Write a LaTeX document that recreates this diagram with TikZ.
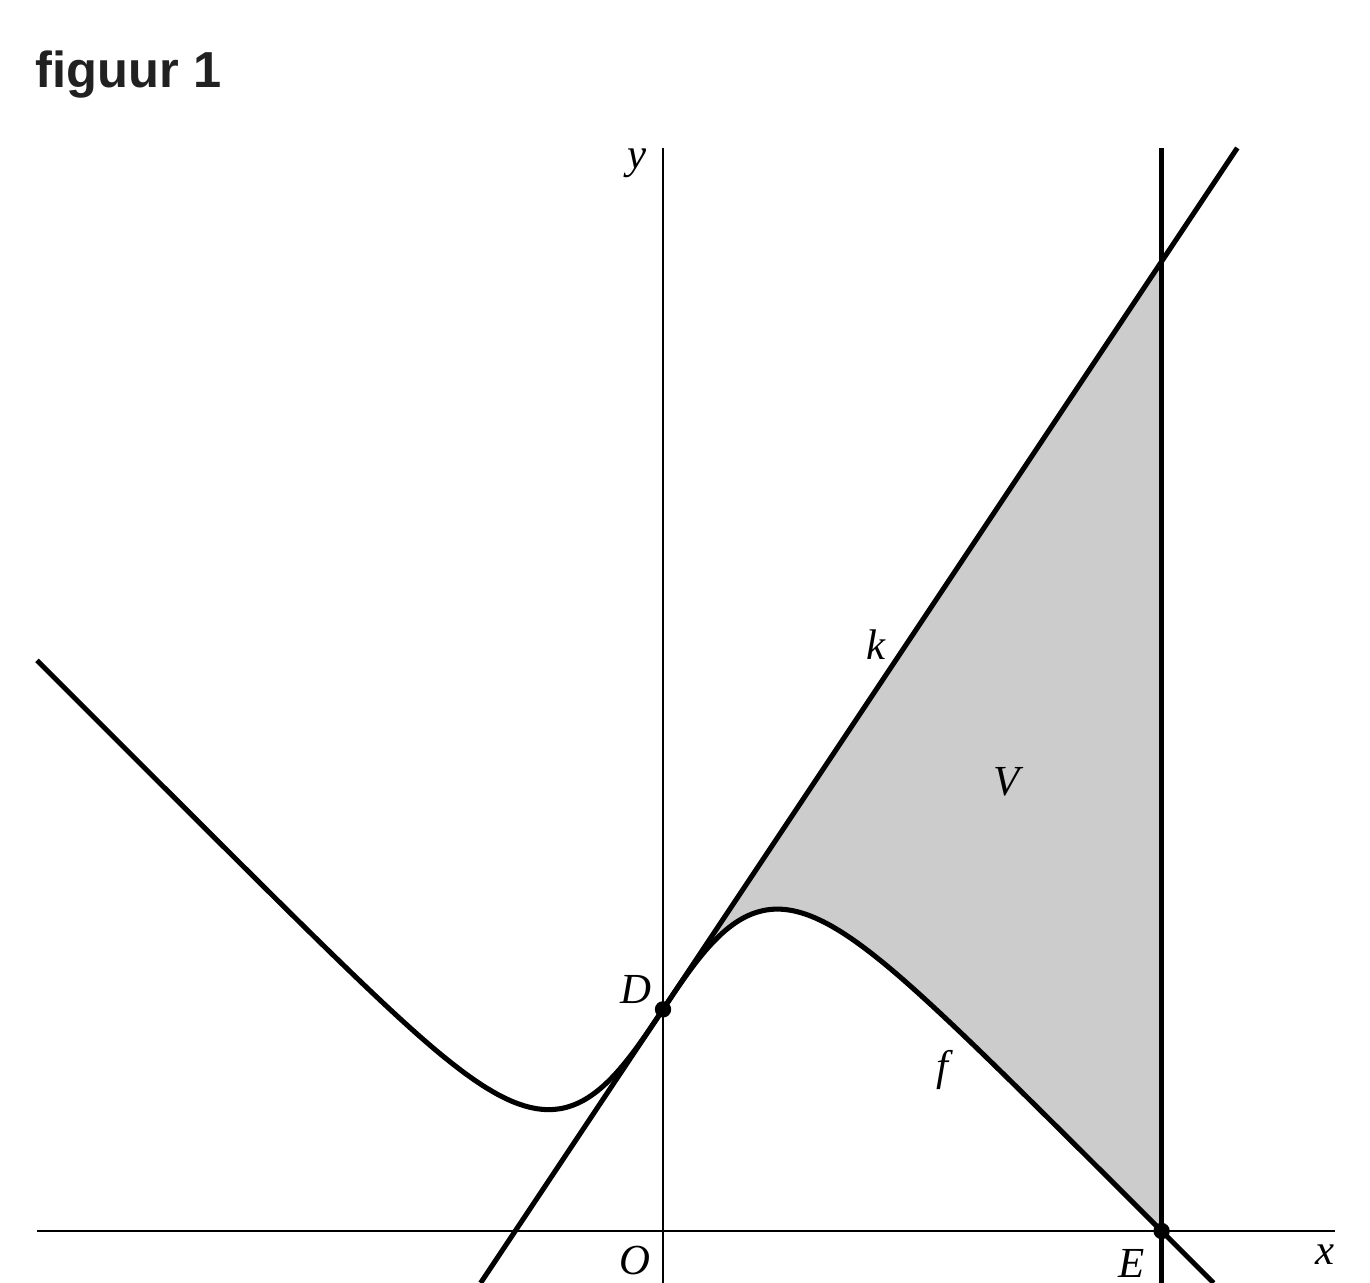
\documentclass[tikz,border=0pt]{standalone}
\usepackage{fontspec}
\setmainfont{Liberation Serif}
\newfontfamily\titlefont{Liberation Sans}
\begin{document}
\begin{tikzpicture}[x=0.5cm,y=0.5cm,
    declare function={fpos(\t)=10/(1+exp(-\t))-\t-1; fneg(\t)=10*exp(\t)/(1+exp(\t))-\t-1;},
    lbl/.style={inner sep=0pt,font=\fontsize{11}{13}\selectfont\itshape},
    axisline/.style={line width=0.75pt},
    graphline/.style={line width=1.3pt},
    dot/.style={circle,fill=black,minimum size=4.2pt,inner sep=0pt}]
  \useasboundingbox (-11.968,-0.939) rectangle (12.762,22.220);
  \node[anchor=base west,inner sep=0pt,text=black!87,
    font=\titlefont\bfseries\fontsize{13}{15}\selectfont] (title) at (-11.336,20.632) {figuur 1};
  % region V
  \fill[gray!40] (0,4) -- (9,17.5) -- plot[domain=9:0,samples=120] (\x,{fpos(\x)}) -- cycle;
  \draw
    (-11.30,0) coordinate (xl)
    (12.13,0) coordinate (xr)
    (0,-0.939) coordinate (yb)
    (0,19.55) coordinate (yt)
    (9,-0.939) coordinate (lb)
    (9,19.55) coordinate (lt)
    (-3.293,-0.939) coordinate (kb)
    (10.367,19.55) coordinate (kt);
  \begin{scope}[-]
    \draw[axisline] (xl) to (xr);
    \draw[axisline] (yb) to (yt);
    \draw[graphline] (lb) to (lt);
    \draw[graphline] (kb) to (kt);
  \end{scope}
  \draw[graphline,line join=round]
    plot[domain=-11.30:0,samples=160] (\x,{fneg(\x)})
    -- plot[domain=0:9.94,samples=160] (\x,{fpos(\x)});
  \draw
    (0,4) node[dot] (D){}
    (9,0) node[dot] (E){};
  \draw
    (-0.469,19.278) node[lbl] (ylabel){y}
    (11.95,-0.433) node[lbl] (xlabel){x}
    (-0.505,-0.542) node[lbl] (O){O}
    (8.466,-0.578) node[lbl] (Elabel){E}
    (-0.487,4.350) node[lbl] (Dlabel){D}
    (3.845,10.578) node[lbl] (k){k}
    (6.209,8.105) node[lbl] (V){V}
    (5.036,2.906) node[lbl] (f){f};
\end{tikzpicture}
\end{document}
